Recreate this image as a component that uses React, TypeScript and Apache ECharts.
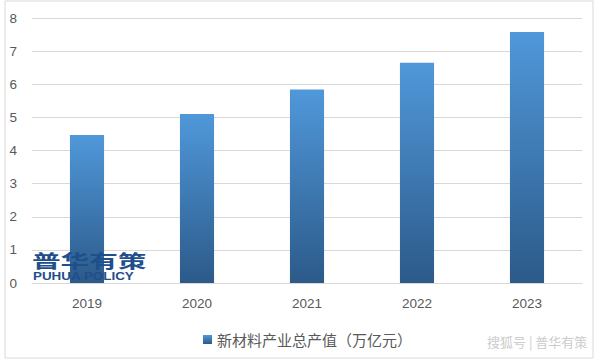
import React, { useEffect, useRef } from "react";
import * as echarts from "echarts";

const categories = ["2019", "2020", "2021", "2022", "2023"];
const values = [4.47, 5.1, 5.84, 6.65, 7.58];
const seriesName = "新材料产业总产值（万亿元）";
const yMin = 0;
const yMax = 8;
const yInterval = 1;

export default function App() {
  const ref = useRef<HTMLDivElement>(null);
  useEffect(() => {
    if (!ref.current) return;
    const chart = echarts.init(ref.current, undefined, { renderer: "svg" });
    chart.setOption({
      animation: false,
      backgroundColor: "#ffffff",
      grid: { left: 32, right: 18, top: 18, bottom: 78 },
      legend: {
        data: [seriesName],
        left: 198,
        top: 327,
        itemWidth: 9,
        itemHeight: 9,
        itemGap: 4,
        icon: "rect",
        textStyle: { color: "#595959", fontSize: 15, fontFamily: "Noto Sans CJK SC" },
      },
      xAxis: {
        type: "category",
        data: categories,
        axisLine: { lineStyle: { color: "#d9d9d9" } },
        axisTick: { show: false },
        axisLabel: { color: "#595959", fontSize: 13.5, margin: 13, fontFamily: "Liberation Sans" },
      },
      yAxis: {
        type: "value",
        min: yMin,
        max: yMax,
        interval: yInterval,
        axisLine: { show: false },
        axisTick: { show: false },
        splitLine: { lineStyle: { color: "#d9d9d9" } },
        axisLabel: { color: "#595959", fontSize: 13.5, margin: 15, fontFamily: "Liberation Sans" },
      },
      series: [
        {
          name: seriesName,
          type: "bar",
          data: values,
          barWidth: "31%",
          itemStyle: {
            color: new echarts.graphic.LinearGradient(0, 0, 0, 1, [
              { offset: 0, color: "#5098da" },
              { offset: 1, color: "#2c5a89" },
            ]),
          },
        },
      ],
      graphic: [
        {
          type: "rect",
          shape: { x: 5, y: 1, width: 588, height: 357 },
          style: { fill: "none", stroke: "#d9d9d9", lineWidth: 1 },
          silent: true,
        },
        {
          type: "text",
          x: 32,
          y: 251,
          z: 100,
          scaleX: 1.1,
          scaleY: 0.7,
          style: {
            text: "普华有策",
            fill: "#1f4e8c",
            font: "bold 26px 'Noto Sans CJK SC'",
            textVerticalAlign: "top",
          },
        },
        {
          type: "text",
          x: 33,
          y: 271,
          z: 100,
          scaleX: 1.22,
          scaleY: 0.95,
          style: {
            text: "PUHUA POLICY",
            fill: "#1f4e8c",
            font: "bold 11px 'Liberation Sans'",
            textVerticalAlign: "top",
          },
        },
        {
          type: "text",
          x: 487,
          y: 335,
          style: {
            text: "搜狐号 | 普华有策",
            fill: "#cccccc",
            font: "13px 'Noto Sans CJK SC'",
            textVerticalAlign: "top",
          },
        },
      ],
    });
    return () => chart.dispose();
  }, []);
  return (
    <div
      ref={ref}
      style={{ position: "fixed", left: 0, top: 0, width: 600, height: 361 }}
    />
  );
}
